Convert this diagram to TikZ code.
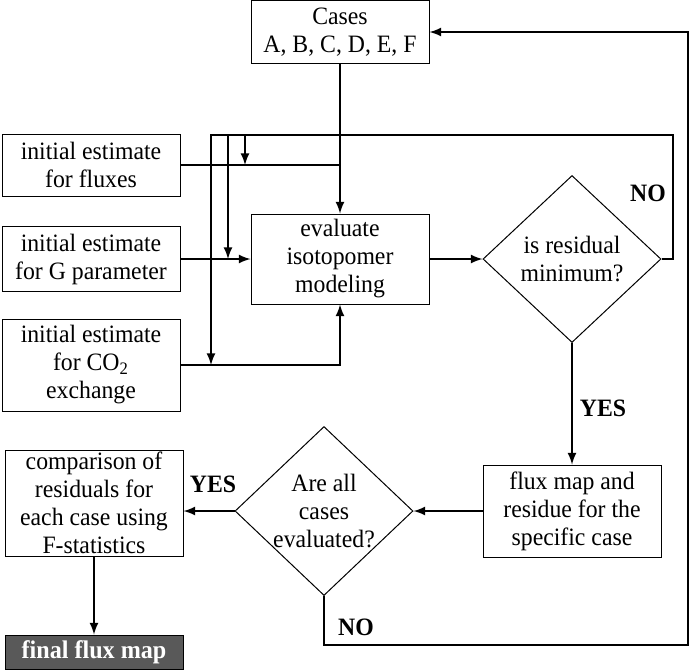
\documentclass[tikz,border=0pt]{standalone}
\usepackage{fontspec}
\setmainfont{Liberation Serif}[FakeStretch=0.95]
\usetikzlibrary{positioning,shapes,arrows}

\begin{document}
\begin{tikzpicture}
    [x=0.5pt,y=-0.5pt,
     every node/.style={draw, line width=0.5pt, align=center, inner sep=0pt, font=\fontsize{12.5}{14}\selectfont},
     box/.style={rectangle, minimum width=89pt},
     decide/.style={diamond, inner sep=-8pt, minimum width=89pt},
     lbl/.style={draw=none, font=\bfseries\fontsize{12.5}{14}\selectfont},
     flow/.style={-latex, line width=1pt}]
  \useasboundingbox (0,0) rectangle (690,671);

  \node[box, minimum height=31.5pt] (cases) at (340,32) {Cases\\A, B, C, D, E, F};
  \node[box, minimum height=31pt] (fluxes) at (91,165) {initial estimate\\for fluxes};
  \node[box, minimum height=32.5pt] (gpar) at (91,259) {initial estimate\\for G parameter};
  \node[box, minimum height=46pt] (co2) at (91,365) {initial estimate\\for CO\textsubscript{2}\\exchange};
  \node[box, minimum height=45pt] (eval) at (340,259) {evaluate\\isotopomer\\modeling};
  \node[decide, minimum height=83.5pt] (resid) at (572,259) {is residual\\minimum?};
  \node[box, minimum height=46pt] (fmap) at (572,511) {flux map and\\residue for the\\specific case};
  \node[decide, minimum height=84.5pt] (allc) at (324,511) {Are all\\cases\\evaluated?};
  \node[box, minimum height=53pt] (comp) at (94,503) {comparison of\\residuals for\\each case using\\F-statistics};
  \node[box, minimum height=17pt, fill=black!65, text=white, font=\bfseries\fontsize{12.7}{14}\selectfont] (final) at (94,652) {final flux map};

  \coordinate (loopR) at (673,135);
  \coordinate (loopL) at (211,135);
  \coordinate (tapG) at (228,135);
  \coordinate (tapF) at (245,135);
  \coordinate (backB) at (688,645);

  \draw[flow] (cases) -- (eval);
  \draw[line width=1pt] (fluxes.east) -- (fluxes.east -| eval.north);
  \draw[flow] (co2.east) -| (eval.south);
  \draw[flow] (resid.east) -| (loopR) -- (loopL) -- (loopL |- co2.east);
  \draw[flow] (tapG) -- (tapG |- gpar.east);
  \draw[flow] (tapF) -- (tapF |- fluxes.east);
  \draw[flow] (allc.west) -- (allc.west -| comp.east);
  \draw[flow] (allc.south) |- (backB) |- (cases.east);

  \foreach \from/\to in {gpar/eval, eval/resid, resid/fmap, fmap/allc, comp/final}
    \draw[flow] (\from) -- (\to);

  \node[lbl] (no1) at (648,193) {NO};
  \node[lbl] (yes1) at (603,408) {YES};
  \node[lbl] (yes2) at (213,484) {YES};
  \node[lbl] (no2) at (356,627) {NO};
\end{tikzpicture}
\end{document}
